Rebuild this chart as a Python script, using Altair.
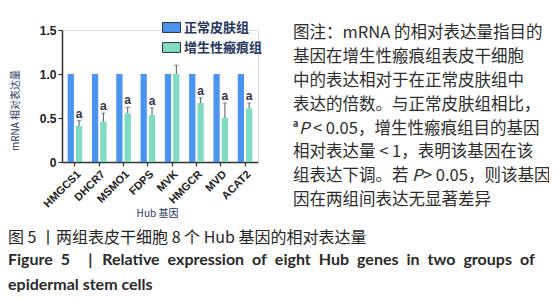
import altair as alt
import pandas as pd

genes = ["HMGCS1", "DHCR7", "MSMO1", "FDPS", "MVK", "HMGCR", "MVD", "ACAT2"]
groups = ["正常皮肤组", "增生性瘢痕组"]
normal_vals = [1.0, 1.0, 1.0, 1.0, 1.0, 1.0, 1.0, 1.0]
scar_vals = [0.41, 0.46, 0.555, 0.535, 1.0, 0.67, 0.50, 0.61]
scar_upper = [0.47, 0.555, 0.62, 0.615, 1.10, 0.73, 0.67, 0.67]
scar_sig = ["a", "a", "a", "a", "", "a", "a", "a"]
y_ticks = [0, 0.5, 1.0, 1.5]

note_lines = [
    "图注：mRNA 的相对表达量指目的",
    "基因在增生性瘢痕组表皮干细胞",
    "中的表达相对于在正常皮肤组中",
    "表达的倍数。与正常皮肤组相比，",
    None,
    "相对表达量 < 1，表明该基因在该",
    None,
    "因在两组间表达无显著差异",
]
caption_cn = "图 5  丨两组表皮干细胞 8 个 Hub 基因的相对表达量"
EN = "\u2002"
TH = "\u2009"
caption_en1 = ("Figure" + EN + "5" + EN * 2 + TH + "|" + EN + TH +
               EN.join(["Relative", "expression", "of", "eight", "Hub", "genes", "in", "two", "groups", "of"]))
caption_en2 = "epidermal stem cells"

BLUE = "#4b94f0"
GREEN = "#7fdcc2"
CJK = "Noto Sans CJK SC"
TXT = "#2d2d2d"
NS = 16.5

rows = []
for i, g in enumerate(genes):
    rows.append({"gene": g, "group": groups[0], "value": normal_vals[i], "upper": None, "sig": ""})
    rows.append({"gene": g, "group": groups[1], "value": scar_vals[i], "upper": scar_upper[i], "sig": scar_sig[i]})
df = pd.DataFrame(rows)
scar = df[df.group == groups[1]]

W, H = 196, 132

x_enc = alt.X("gene:N", sort=genes,
              scale=alt.Scale(paddingInner=0.40, paddingOuter=0.233),
              axis=alt.Axis(title="Hub 基因", labelAngle=-45, labelFont="Liberation Sans",
                            labelFontWeight="bold", labelFontSize=11, labelColor="#222",
                            domainColor="#333", domainWidth=1.5, tickColor="#333", tickSize=4,
                            tickWidth=1.2, titleFont=CJK, titleFontSize=10, titleFontWeight="normal",
                            titleColor="#27375e", titleX=95, titleY=51, titleAnchor="middle",
                            titleBaseline="middle", labelPadding=2))
xo_enc = alt.XOffset("group:N", sort=groups, scale=alt.Scale(paddingInner=0.25, paddingOuter=0))
y_scale = alt.Scale(domain=[0, 1.5], nice=False)

bars = alt.Chart(df).mark_bar().encode(
    x=x_enc,
    xOffset=xo_enc,
    y=alt.Y("value:Q", scale=y_scale,
            axis=alt.Axis(values=y_ticks, labelExpr="datum.value == 0 ? '0' : format(datum.value, '.1f')",
                          title="mRNA 相对表达量", grid=False, labelFont="Liberation Sans",
                          labelFontWeight="bold", labelFontSize=12, labelColor="#222",
                          domainColor="#333", domainWidth=1.5, tickColor="#333", tickSize=4,
                          tickWidth=1.2, titleFont=CJK, titleFontSize=10, titleFontWeight="normal",
                          titleColor="#27375e", titleX=-47, titleY=80, titleAngle=270,
                          titleAnchor="middle", titleBaseline="middle")),
    color=alt.Color("group:N", sort=groups,
                    scale=alt.Scale(domain=groups, range=[BLUE, GREEN]),
                    legend=alt.Legend(orient="none", legendX=100, legendY=-12, title=None,
                                      symbolType="M-1,-0.55H1V0.55H-1Z", symbolSize=324,
                                      symbolStrokeColor="#333", symbolStrokeWidth=1,
                                      symbolOpacity=1, labelFont=CJK, labelFontWeight="bold",
                                      labelFontSize=13, labelColor="#27375e", rowPadding=3,
                                      labelOffset=3)),
)

err = alt.Chart(scar).mark_rule(color="#555", strokeWidth=1).encode(
    x=alt.X("gene:N", sort=genes), xOffset=alt.XOffset("group:N", sort=groups),
    y="value:Q", y2="upper:Q")
cap = alt.Chart(scar).mark_tick(color="#555", thickness=1, size=4, orient="horizontal").encode(
    x=alt.X("gene:N", sort=genes), xOffset=alt.XOffset("group:N", sort=groups),
    y="upper:Q")
sig = alt.Chart(scar).mark_text(dy=-7, font="Liberation Sans", fontWeight="bold", fontSize=12,
                                color="#33334d").encode(
    x=alt.X("gene:N", sort=genes), xOffset=alt.XOffset("group:N", sort=groups),
    y="upper:Q", text="sig:N")

one = pd.DataFrame({"k": [0]})


def txt(s, x, y, size=NS, font=CJK, weight="normal", style="normal", color=TXT):
    return alt.Chart(one).mark_text(text=s, align="left", baseline="middle", font=font,
                                    fontSize=size, fontWeight=weight, fontStyle=style,
                                    color=color).encode(x=alt.value(x), y=alt.value(y))


layers = [bars, err, cap, sig]
NX = 231
for i, line in enumerate(note_lines):
    y = 3.3 + i * 23.8
    if line is not None:
        layers.append(txt(line, NX, y))
y5 = 3.3 + 4 * 23.8
layers.append(txt("a", NX, y5 - 5, size=9, weight="bold"))
layers.append(txt("P", NX + 6, y5, style="italic"))
layers.append(txt("< 0.05", NX + 20, y5))
layers.append(txt("，增生性瘢痕组目的基因", NX + 65, y5))
y7 = 3.3 + 6 * 23.8
layers.append(txt("组表达下调。若", NX, y7))
layers.append(txt("P", NX + 119, y7, style="italic"))
layers.append(txt("> 0.05", NX + 130, y7))
layers.append(txt("，则该基因", NX + 175, y7))

layers.append(txt(caption_cn, -54, 208, size=16, color="#262626"))
layers.append(txt(caption_en1, -54, 230, size=16, font="Lato", weight="bold", color="#2a2a2a"))
layers.append(txt(caption_en2, -54, 255, size=16, font="Lato", weight="bold", color="#2a2a2a"))

chart = alt.layer(*layers).properties(
    width=W, height=H,
    autosize=alt.AutoSizeParams(type="none"),
    padding={"left": 54, "top": 22, "right": 291, "bottom": 130},
).configure_view(stroke=None).configure(background="white")

chart.save("out.html", embed_options={"renderer": "svg", "actions": False})
